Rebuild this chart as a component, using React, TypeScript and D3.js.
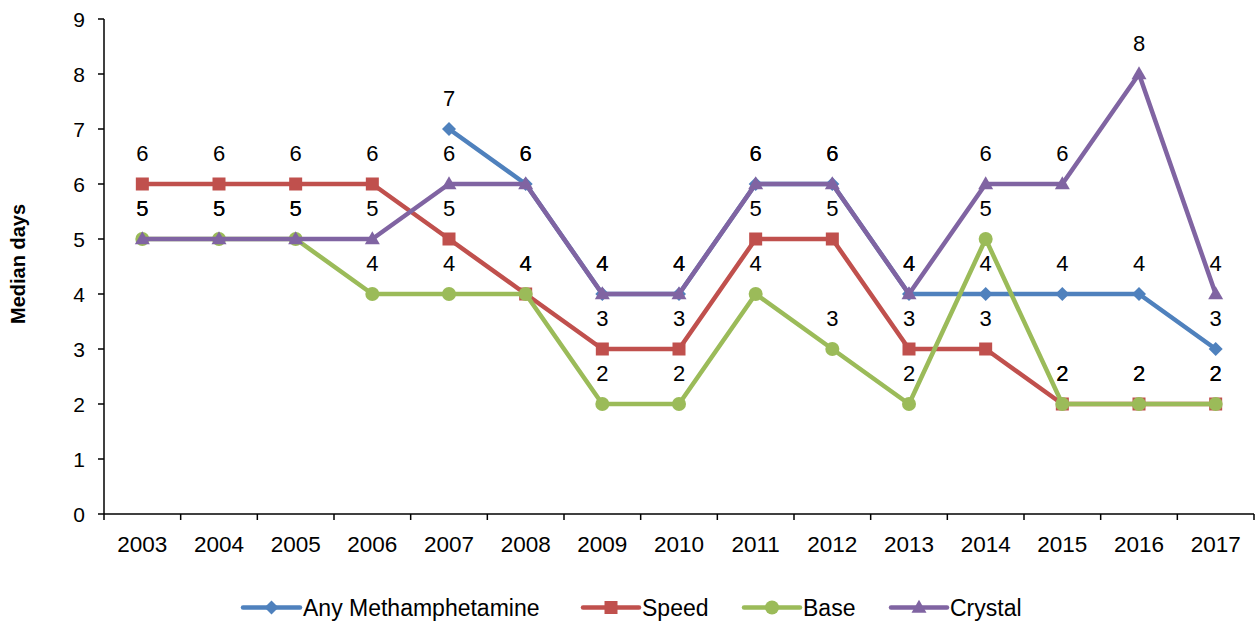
import React from "react";
import * as d3 from "d3";

const years = ["2003", "2004", "2005", "2006", "2007", "2008", "2009", "2010", "2011", "2012", "2013", "2014", "2015", "2016", "2017"];
const anyMeth: (number | null)[] = [null, null, null, null, 7, 6, 4, 4, 6, 6, 4, 4, 4, 4, 3];
const speed: number[] = [6, 6, 6, 6, 5, 4, 3, 3, 5, 5, 3, 3, 2, 2, 2];
const base: number[] = [5, 5, 5, 4, 4, 4, 2, 2, 4, 3, 2, 5, 2, 2, 2];
const crystal: number[] = [5, 5, 5, 5, 6, 6, 4, 4, 6, 6, 4, 6, 6, 8, 4];
const yTicks = [0, 1, 2, 3, 4, 5, 6, 7, 8, 9];

type Marker = "diamond" | "square" | "circle" | "triangle";
const series: { name: string; values: (number | null)[]; color: string; marker: Marker }[] = [
  { name: "Any Methamphetamine", values: anyMeth, color: "#4F81BD", marker: "diamond" },
  { name: "Speed", values: speed, color: "#C0504D", marker: "square" },
  { name: "Base", values: base, color: "#9BBB59", marker: "circle" },
  { name: "Crystal", values: crystal, color: "#8064A2", marker: "triangle" },
];

const W = 1258;
const H = 624;
const left = 104;
const right = 1254;
const top = 19;
const bottom = 514;
const FONT = "Arial, 'Liberation Sans', sans-serif";

function MarkerShape({ kind, x, y, color }: { kind: Marker; x: number; y: number; color: string }) {
  if (kind === "diamond") {
    const r = 7;
    return <path d={`M${x},${y - r}L${x + r},${y}L${x},${y + r}L${x - r},${y}Z`} fill={color} />;
  }
  if (kind === "square") {
    const s = 13;
    return <rect x={x - s / 2} y={y - s / 2} width={s} height={s} fill={color} />;
  }
  if (kind === "circle") {
    return <circle cx={x} cy={y} r={7} fill={color} />;
  }
  const h = 13;
  const w = 15;
  return <path d={`M${x},${y - h * 0.6}L${x + w / 2},${y + h * 0.4}L${x - w / 2},${y + h * 0.4}Z`} fill={color} />;
}

export default function App() {
  const x = d3.scaleBand<string>().domain(years).range([left, right]);
  const y = d3.scaleLinear().domain([0, 9]).range([bottom, top]);
  const cx = (yr: string) => (x(yr) as number) + x.bandwidth() / 2;

  const line = d3
    .line<number | null>()
    .defined((d) => d !== null)
    .x((_, i) => cx(years[i]))
    .y((d) => y(d as number));

  const legendItems = [
    { lx: 243, tx: 303 },
    { lx: 583, tx: 642 },
    { lx: 744, tx: 803 },
    { lx: 891, tx: 950 },
  ];
  const legendY = 607.5;

  return (
    <svg width={W} height={H} style={{ position: "absolute", left: 0, top: 0, background: "#fff" }} fontFamily={FONT}>
      {/* y axis */}
      <line x1={left} x2={left} y1={top} y2={bottom} stroke="#000" strokeWidth={1.5} />
      {yTicks.map((t) => (
        <g key={t}>
          <line x1={left - 6} x2={left} y1={y(t)} y2={y(t)} stroke="#000" strokeWidth={1.5} />
          <text x={left - 19} y={y(t) + 7.5} textAnchor="end" fontSize={21}>
            {t}
          </text>
        </g>
      ))}
      {/* x axis */}
      <line x1={left} x2={right} y1={bottom} y2={bottom} stroke="#000" strokeWidth={1.5} />
      {years.map((yr) => (
        <line key={"t" + yr} x1={x(yr)} x2={x(yr)} y1={bottom} y2={bottom + 6} stroke="#000" strokeWidth={1.5} />
      ))}
      <line x1={right} x2={right} y1={bottom} y2={bottom + 6} stroke="#000" strokeWidth={1.5} />
      {years.map((yr) => (
        <text key={"l" + yr} x={cx(yr)} y={552} textAnchor="middle" fontSize={22.5}>
          {yr}
        </text>
      ))}
      <text
        transform={`translate(25,264) rotate(-90)`}
        textAnchor="middle"
        fontSize={20}
        fontWeight="bold"
      >
        Median days
      </text>

      {/* series lines and markers */}
      {series.map((s) => (
        <g key={s.name}>
          <path d={line(s.values) || ""} fill="none" stroke={s.color} strokeWidth={4.5} strokeLinejoin="round" />
          {s.values.map((v, i) =>
            v === null ? null : <MarkerShape key={i} kind={s.marker} x={cx(years[i])} y={y(v)} color={s.color} />
          )}
        </g>
      ))}

      {/* data labels */}
      {series.map((s) => (
        <g key={"dl" + s.name}>
          {s.values.map((v, i) =>
            v === null ? null : (
              <text key={i} x={cx(years[i])} y={y(v) - 23} textAnchor="middle" fontSize={22}>
                {v}
              </text>
            )
          )}
        </g>
      ))}

      {/* legend */}
      {series.map((s, i) => {
        const it = legendItems[i];
        const lx2 = it.tx - 3;
        return (
          <g key={"lg" + s.name}>
            <line x1={it.lx} x2={lx2} y1={legendY} y2={legendY} stroke={s.color} strokeWidth={4.5} strokeLinecap="round" />
            <MarkerShape kind={s.marker} x={(it.lx + lx2) / 2} y={legendY} color={s.color} />
            <text x={it.tx} y={615.5} fontSize={23}>
              {s.name}
            </text>
          </g>
        );
      })}
    </svg>
  );
}
